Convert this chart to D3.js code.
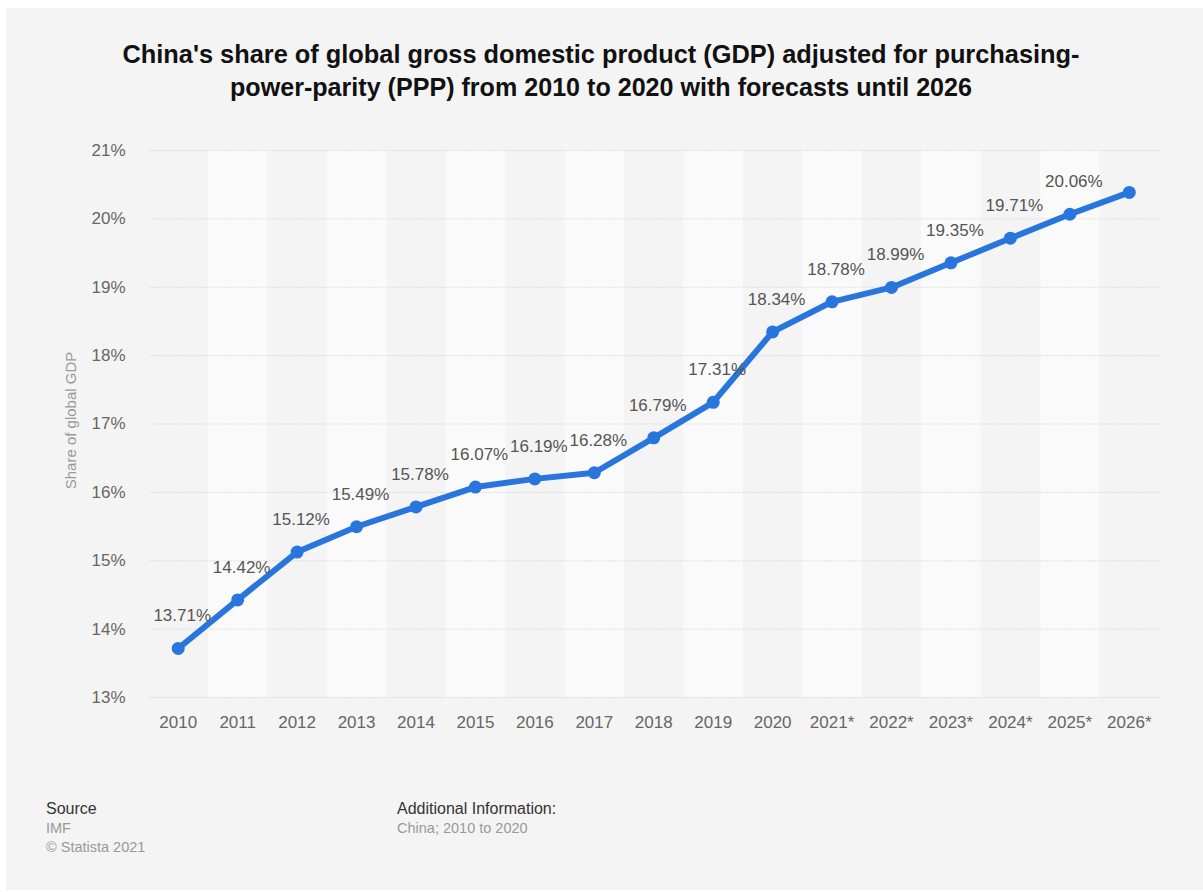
<!DOCTYPE html>
<html>
<head>
<meta charset="utf-8">
<script src="https://cdn.jsdelivr.net/npm/d3@7"></script>
<style>
  html, body { margin: 0; padding: 0; background: #ffffff; }
  svg { display: block; }
  text { font-family: "Liberation Sans", Arial, Helvetica, sans-serif; }
</style>
</head>
<body>
<svg id="chart" width="1203" height="892"></svg>
<script>
// China's share of global GDP (PPP), 2010-2020 with IMF forecasts to 2026
const years = ["2010", "2011", "2012", "2013", "2014", "2015", "2016", "2017", "2018",
               "2019", "2020", "2021*", "2022*", "2023*", "2024*", "2025*", "2026*"];
const shares = [13.71, 14.42, 15.12, 15.49, 15.78, 16.07, 16.19, 16.28, 16.79,
                17.31, 18.34, 18.78, 18.99, 19.35, 19.71, 20.06, 20.38];
// 2026 is drawn without a value label
const showLabel = [true, true, true, true, true, true, true, true, true,
                   true, true, true, true, true, true, true, false];
const yTicks = [13, 14, 15, 16, 17, 18, 19, 20, 21];
const titleLines = [
  "China's share of global gross domestic product (GDP) adjusted for purchasing-",
  "power-parity (PPP) from 2010 to 2020 with forecasts until 2026"
];

const svg = d3.select("#chart");

// card background
svg.append("rect").attr("x", 6).attr("y", 8).attr("width", 1197).attr("height", 882)
  .attr("fill", "#f4f4f4");

const plot = { left: 148.5, right: 1159, top: 150, bottom: 697 };

const x = d3.scaleBand().domain(years).range([plot.left, plot.right]).padding(0);
const y = d3.scaleLinear().domain([13, 21]).range([plot.bottom, plot.top]);

// alternating column shading
svg.append("g").selectAll("rect")
  .data(years.filter((d, i) => i % 2 === 1))
  .join("rect")
  .attr("x", d => x(d))
  .attr("y", plot.top)
  .attr("width", x.bandwidth())
  .attr("height", plot.bottom - plot.top)
  .attr("fill", "#fafafa");

// title
svg.append("g").selectAll("text")
  .data(titleLines)
  .join("text")
  .attr("x", 601)
  .attr("y", (d, i) => 63 + i * 33)
  .attr("text-anchor", "middle")
  .attr("font-size", 25)
  .attr("font-weight", "bold")
  .attr("fill", "#111")
  .attr("textLength", (d, i) => i === 0 ? 957 : 742)
  .attr("lengthAdjust", "spacingAndGlyphs")
  .text(d => d);

// horizontal grid and y axis
const yAxis = d3.axisLeft(y).tickValues(yTicks)
  .tickFormat(d => d + "%")
  .tickSize(-(plot.right - plot.left))
  .tickPadding(24);
const gy = svg.append("g").attr("transform", `translate(${plot.left + 1},0)`).call(yAxis);
gy.select(".domain").remove();
gy.selectAll(".tick line")
  .attr("stroke", "#c8c8c8")
  .attr("stroke-width", 1)
  .attr("stroke-dasharray", "1,2");
gy.selectAll(".tick text")
  .attr("font-size", 17)
  .attr("fill", "#666")
  .attr("font-family", "Liberation Sans, Arial, sans-serif");

// x axis
const xAxis = d3.axisBottom(x).tickSize(0).tickPadding(19);
const gx = svg.append("g").attr("transform", `translate(0,${plot.bottom})`).call(xAxis);
gx.select(".domain").remove();
gx.selectAll(".tick text")
  .attr("font-size", 17)
  .attr("fill", "#666")
  .attr("font-family", "Liberation Sans, Arial, sans-serif");

// y axis title
svg.append("text")
  .attr("transform", `translate(76,${(plot.top + plot.bottom) / 2 - 3}) rotate(-90)`)
  .attr("text-anchor", "middle")
  .attr("font-size", 15)
  .attr("fill", "#999")
  .text("Share of global GDP");

const cx = d => x(d) + x.bandwidth() / 2;
const points = years.map((d, i) => ({ year: d, value: shares[i], label: showLabel[i] }));

// series line
svg.append("path")
  .datum(points)
  .attr("fill", "none")
  .attr("stroke", "#2876dd")
  .attr("stroke-width", 6)
  .attr("stroke-linejoin", "round")
  .attr("stroke-linecap", "round")
  .attr("d", d3.line().x(d => cx(d.year)).y(d => y(d.value)));

// data points
svg.append("g").selectAll("circle")
  .data(points)
  .join("circle")
  .attr("cx", d => cx(d.year))
  .attr("cy", d => y(d.value))
  .attr("r", 6.5)
  .attr("fill", "#2876dd");

// value labels
svg.append("g").selectAll("text")
  .data(points.filter(d => d.label))
  .join("text")
  .attr("x", d => cx(d.year) + 4)
  .attr("y", d => y(d.value) - 27)
  .attr("text-anchor", "middle")
  .attr("font-size", 17)
  .attr("fill", "#555")
  .text(d => d.value.toFixed(2) + "%");

// footer
const footer = svg.append("g");
footer.append("text").attr("x", 46).attr("y", 814).attr("font-size", 16).attr("fill", "#333").text("Source");
footer.append("text").attr("x", 46).attr("y", 833).attr("font-size", 14.5).attr("fill", "#999").text("IMF");
footer.append("text").attr("x", 46).attr("y", 852).attr("font-size", 14.5).attr("fill", "#999").text("© Statista 2021");
footer.append("text").attr("x", 397).attr("y", 814).attr("font-size", 16).attr("fill", "#333").text("Additional Information:");
footer.append("text").attr("x", 397).attr("y", 833).attr("font-size", 14.5).attr("fill", "#999").text("China; 2010 to 2020");
</script>
</body>
</html>
